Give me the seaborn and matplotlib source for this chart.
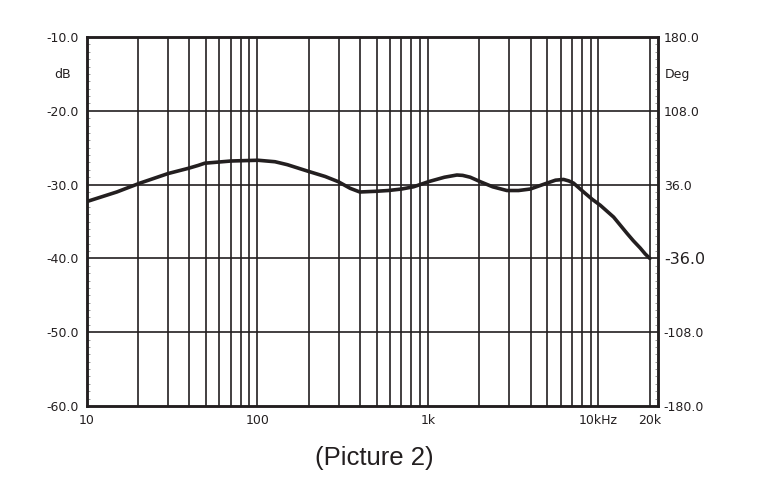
import numpy as np
import pandas as pd
import matplotlib
matplotlib.use("Agg")
import matplotlib.pyplot as plt
import seaborn as sns

# frequency response
freq_hz = [10, 15, 20.5, 30, 39.3, 45, 49.2, 70.2, 101, 127, 150, 199, 250,
           298, 350, 399, 500, 585, 700, 823, 1009, 1250, 1479, 1600, 1771,
           2026, 2400, 2904, 3400, 3980, 4989, 5600, 6240, 6700, 7145, 8183,
           9200, 10250, 12270, 14690, 16000, 17580, 18800, 20000]
level_db = [-32.3, -31.0, -29.8, -28.5, -27.8, -27.4, -27.1, -26.8, -26.7,
            -26.9, -27.3, -28.2, -28.9, -29.6, -30.5, -31.0, -30.9, -30.8,
            -30.6, -30.3, -29.6, -29.0, -28.7, -28.75, -29.0, -29.6, -30.3,
            -30.8, -30.8, -30.6, -29.8, -29.4, -29.3, -29.5, -29.8, -31.0,
            -32.0, -32.8, -34.4, -36.6, -37.6, -38.6, -39.4, -40.0]

db_ticks = [-60, -50, -40, -30, -20, -10]
deg_ticks = [-180, -108, -36, 36, 108, 180]
grid_freqs = ([20, 30, 40, 50, 60, 70, 80, 90]
              + [100, 200, 300, 400, 500, 600, 700, 800, 900]
              + [1000, 2000, 3000, 4000, 5000, 6000, 7000, 8000, 9000, 10000, 20000])
freq_labels = {10: "10", 100: "100", 1000: "1k", 10000: "10kHz", 20000: "20k"}

df = pd.DataFrame({"freq": freq_hz, "level": level_db})

sns.set_style("white")
plt.rcParams["font.family"] = ["DejaVu Sans"]

fig = plt.figure(figsize=(7.62, 4.87), dpi=100)
ax = fig.add_axes([0.1138, 0.1663, 0.75, 0.7577])

line_col = "#231f20"
for f in grid_freqs:
    ax.axvline(f, color=line_col, lw=1.2, zorder=1)
for v in db_ticks[1:-1]:
    ax.axhline(v, color=line_col, lw=1.2, zorder=1)

sns.lineplot(data=df, x="freq", y="level", ax=ax, color=line_col, lw=2.6,
             zorder=3, solid_joinstyle="round", solid_capstyle="round")

ax.set_xscale("log")
ax.set_xlim(10, 22400)
ax.set_ylim(-60, -10)
ax.set_xlabel("")
ax.set_ylabel("")

ax.set_yticks(db_ticks)
ax.set_yticklabels([f"{v:.1f}" for v in db_ticks], fontsize=9, color=line_col)
ax.set_yticks(np.arange(-60, -10, 1), minor=True)
ax.set_xticks(list(freq_labels.keys()))
ax.set_xticklabels(list(freq_labels.values()), fontsize=9, color=line_col)
ax.set_xticks([], minor=True)
ax.tick_params(axis="both", which="major", length=0, pad=6)
ax.tick_params(axis="y", which="minor", direction="in", length=2,
               width=0.6, color="#888888", left=True)

for sp in ax.spines.values():
    sp.set_color(line_col)
    sp.set_linewidth(1.8)

ax2 = ax.twinx()
ax2.set_ylim(-180, 180)
ax2.set_yticks(deg_ticks)
ax2.set_yticklabels([f"{v:.1f}" for v in deg_ticks], fontsize=9, color=line_col)
ax2.set_yticks(np.arange(-180, 180, 7.2), minor=True)
ax2.tick_params(axis="y", which="major", length=0, pad=4)
ax2.tick_params(axis="y", which="minor", direction="in", length=2,
                width=0.6, color="#888888", right=True)
for lbl in ax2.get_yticklabels():
    if lbl.get_text() == "-36.0":
        lbl.set_fontsize(11.5)
for sp in ax2.spines.values():
    sp.set_color(line_col)
    sp.set_linewidth(1.8)

fig.text(0.082, 0.848, "dB", fontsize=9, color=line_col, ha="center", va="center")
fig.text(0.889, 0.848, "Deg", fontsize=9, color=line_col, ha="center", va="center")

fig.text(0.491, 0.06, "(Picture 2)", fontsize=18.5, color=line_col,
         ha="center", va="center", family=["Liberation Sans", "DejaVu Sans"])

fig.savefig("out.png", dpi=100)
